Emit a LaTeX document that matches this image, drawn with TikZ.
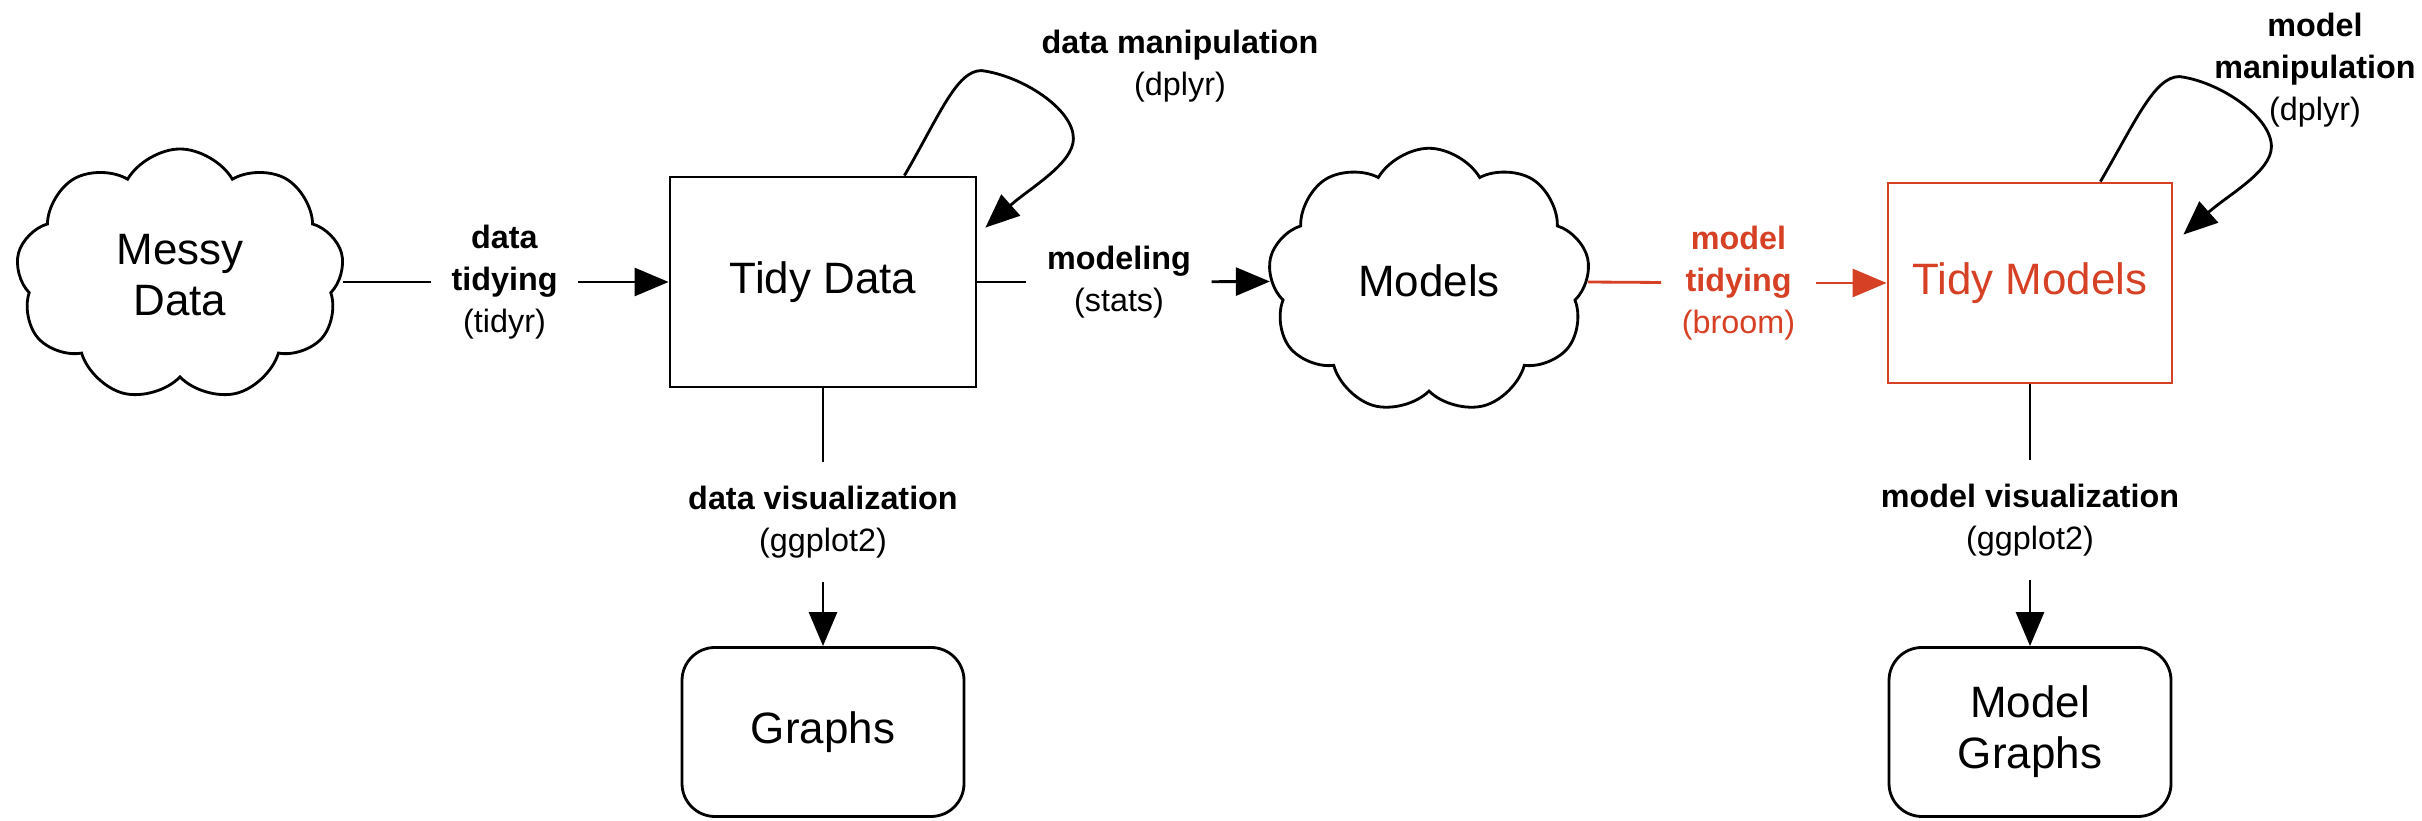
\documentclass[tikz,border=0pt]{standalone}
\usepackage{fontspec}
\setmainfont{Liberation Sans}
\usetikzlibrary{shapes.symbols,arrows.meta}
\definecolor{broomred}{RGB}{214,64,36}
\begin{document}
\begin{tikzpicture}[
  every node/.style={font=\fontsize{12.5}{14.5}\selectfont, align=center},
  sqbox/.style={draw, line width=0.8pt},
  roundbox/.style={draw, line width=0.8pt, rounded corners=3.3mm, minimum width=2.82cm, minimum height=1.69cm},
  blob/.style={cloud, draw, line width=0.8pt, cloud puffs=9, cloud puff arc=120},
  lbl/.style={font=\fontsize{9.2}{12}\selectfont, inner xsep=2mm, inner ysep=2.3mm},
  link/.style={line width=0.8pt},
  flow/.style={line width=0.8pt, -{Triangle[length=3.4mm,width=2.8mm]}},
]
\useasboundingbox (0,0) rectangle (24.22,8.21);

% main row
\node[blob, minimum width=3.28cm, minimum height=2.52cm] (messy) at (1.80,5.46) {Messy\\Data};
\node[sqbox, minimum width=3.06cm, minimum height=2.10cm] (tidy) at (8.23,5.39) {Tidy Data};
\node[blob, minimum width=3.22cm, minimum height=2.50cm] (models) at (14.29,5.40) {Models};
\node[sqbox, draw=broomred, text=broomred, minimum width=2.84cm, minimum height=2.0cm] (tidymod) at (20.30,5.38) {Tidy Models};

% bottom row
\node[roundbox] (graphs) at (8.23,0.89) {Graphs};
\node[roundbox] (modgraphs) at (20.30,0.89) {Model\\Graphs};

% labels on the edges
\node[lbl] (tidylab) at (5.045,5.39) {\textbf{data}\\\textbf{tidying}\\(tidyr)};
\node[lbl] (modlab) at (11.19,5.39) {\textbf{modeling}\\(stats)};
\node[lbl, text=broomred] (broomlab) at (17.385,5.38) {\textbf{model}\\\textbf{tidying}\\(broom)};
\node[lbl] (vislab) at (8.23,2.99) {\textbf{data visualization}\\(ggplot2)};
\node[lbl] (mvislab) at (20.30,3.01) {\textbf{model visualization}\\(ggplot2)};
\node[lbl] (manlab) at (11.80,7.55) {\textbf{data manipulation}\\(dplyr)};
\node[lbl] (mmanlab) at (23.15,7.51) {\textbf{model}\\\textbf{manipulation}\\(dplyr)};

% edges
\draw[link] (messy.east |- tidylab) -- (tidylab);
\draw[flow] (tidylab) -- (tidylab -| tidy.west);
\draw[link] (tidy) -- (modlab);
\draw[flow] (modlab) -- (models);
\draw[link, broomred] (models) -- (broomlab);
\draw[flow, broomred] (broomlab) -- (broomlab -| tidymod.west);
\draw[link] (tidy) -- (vislab);
\draw[flow] (vislab) -- (graphs);
\draw[link] (tidymod) -- (mvislab);
\draw[flow] (mvislab) -- (modgraphs);

% self loops
\draw[flow] ([xshift=-7.3mm]tidy.north east)
  .. controls +(0.35,0.6) and +(-0.25,0) .. ([shift={(0.4mm,10.5mm)}]tidy.north east)
  .. controls +(0.4,-0.05) and +(0,0.3) .. ([shift={(9.6mm,3.7mm)}]tidy.north east)
  .. controls +(0,-0.25) and +(0.45,0.4) .. ([shift={(0.8mm,-5.2mm)}]tidy.north east);
\draw[flow] ([xshift=-7.3mm]tidymod.north east)
  .. controls +(0.35,0.6) and +(-0.25,0) .. ([shift={(0.6mm,10.5mm)}]tidymod.north east)
  .. controls +(0.4,-0.05) and +(0,0.3) .. ([shift={(9.8mm,3.5mm)}]tidymod.north east)
  .. controls +(0,-0.25) and +(0.45,0.4) .. ([shift={(1.0mm,-5.3mm)}]tidymod.north east);
\end{tikzpicture}
\end{document}
